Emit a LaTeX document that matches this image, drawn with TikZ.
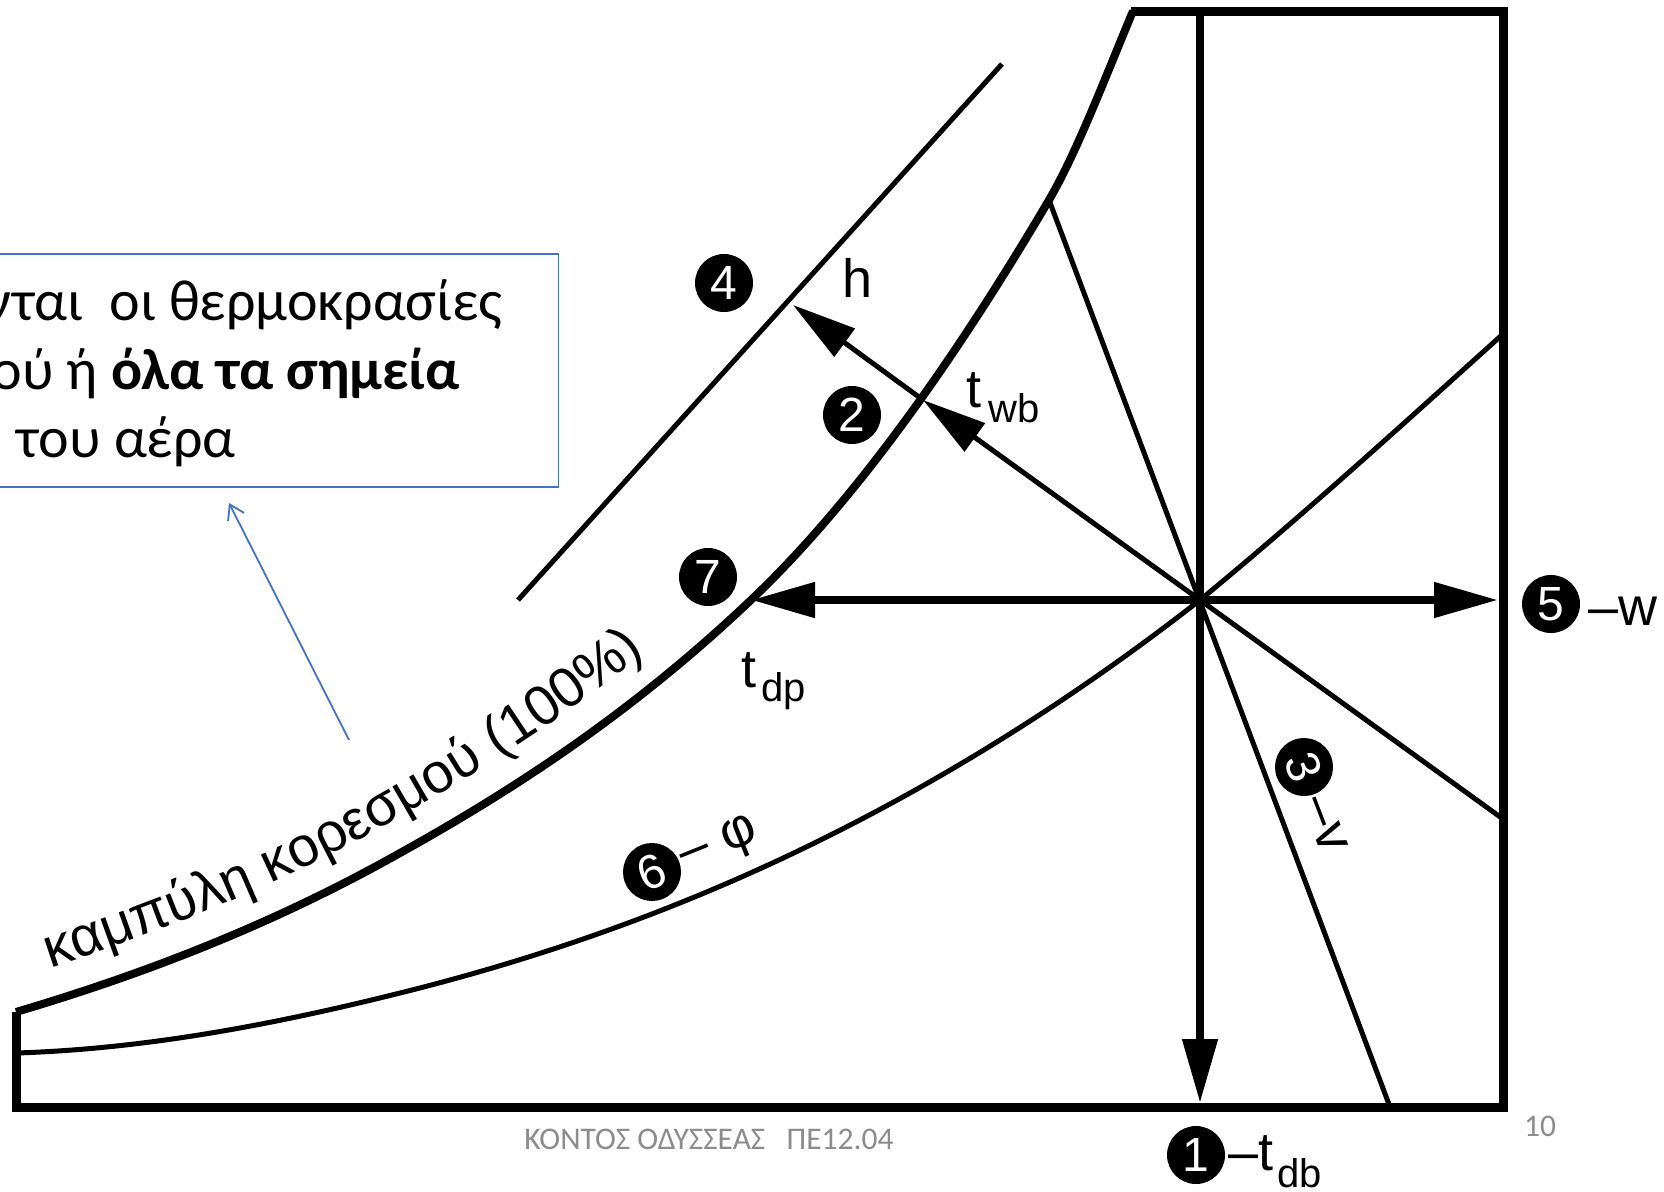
\documentclass[tikz,border=0pt]{standalone}
\usepackage{fontspec}
\newfontfamily\boxfont{Carlito}
\newfontfamily\labfont{Liberation Sans}
\usetikzlibrary{arrows.meta,decorations.text}
\definecolor{blueline}{HTML}{4472C4}
\definecolor{footgray}{HTML}{8C8C8C}
\begin{document}
\begin{tikzpicture}[x=1pt,y=-1pt,
  framestyle/.style={line width=9pt, line join=miter},
  satstyle/.style={line width=8pt},
  thinline/.style={line width=5pt},
  axisline/.style={line width=8pt},
  bigarrow/.style={-{Triangle[length=64pt,width=34pt]}},
  num/.style={circle, fill=black, minimum size=58pt, inner sep=0pt, text=white, font=\labfont\fontsize{48}{48}\selectfont},
  lab/.style={font=\labfont\fontsize{54}{54}\selectfont, inner sep=0pt},
  sublab/.style={font=\labfont\fontsize{40}{40}\selectfont, inner sep=0pt},
  boxtext/.style={font=\boxfont\fontsize{58}{70}\selectfont, inner sep=0pt},
  foottext/.style={font=\boxfont\fontsize{31.5}{31.5}\selectfont, text=footgray, inner sep=0pt},
]
\useasboundingbox (0,0) rectangle (1664,1191);
\fill[white] (0,0) rectangle (1664,1191);
\begin{scope}
\clip (0,0) rectangle (1664,1191);

% key points
\coordinate (C) at (1200,600);
\coordinate (TL) at (16,1012);
\coordinate (BL) at (16,1107);
\coordinate (BR) at (1503,1107);
\coordinate (TR) at (1503,11);
\coordinate (TS) at (1131,11);
\coordinate (S1) at (400,853);
\coordinate (DP) at (751,600);
\coordinate (V1) at (1049,200);
\coordinate (ST) at (1133,11);

% frame
\draw[framestyle] (TL) -- (BL) -- (BR) -- (TR) -- (TS);
% saturation curve
\draw[satstyle] (TL) .. controls (144,974) and (272,925) .. (S1)
  .. controls (517,788) and (634,711) .. (DP)
  .. controls (850,506) and (950,368) .. (V1)
  .. controls (1077,152) and (1105,78) .. (ST);

% relative humidity curve
\coordinate (F0) at (16,1053);
\coordinate (F1) at (400,993);
\coordinate (F2) at (800,850);
\coordinate (F4) at (1503,334);
\draw[thinline] (F0) .. controls (144,1049) and (272,1025) .. (F1)
  .. controls (533,960) and (667,914) .. (F2)
  .. controls (933,786) and (1067,704) .. (C)
  .. controls (1301,517) and (1402,425) .. (F4);

% enthalpy line
\coordinate (H1) at (518,600);
\coordinate (H2) at (1002,64);
\draw[thinline] (H1) -- (H2);

% wet bulb line
\coordinate (HW) at (793,305);
\coordinate (SW) at (923,400);
\coordinate (TWR) at (1503,819);
\draw[thinline] (TWR) -- (C);
\draw[thinline, bigarrow] (C) -- (SW);
\draw[thinline, bigarrow] (SW) -- (HW);

% specific volume line
\coordinate (V2) at (1390,1107);
\draw[thinline] (V1) -- (V2);

% humidity ratio / dew point
\coordinate (WR) at (1498,600);
\draw[axisline, bigarrow] (C) -- (DP);
\draw[axisline, bigarrow] (C) -- (WR);

% dry bulb
\coordinate (DBT) at (1200,11);
\coordinate (DBB) at (1200,1103);
\draw[axisline, bigarrow] (DBT) -- (DBB);

% curve label
\coordinate (K0) at (50,968);
\coordinate (K1) at (388,824);
\coordinate (K2) at (739,571);
\path[decorate, decoration={text along path, text align=left,
  text={|\labfont\fontsize{56}{56}\selectfont|καμπύλη κορεσμού (100{\%})}}]
  (K0) .. controls (163,931) and (275,887) .. (K1)
  .. controls (505,758) and (622,682) .. (K2);

% circled numbers
\node[num] (n4) at (724,283) {4};
\node[num] (n2) at (852,415) {2};
\node[num] (n7) at (708,577) {7};
\node[num] (n5) at (1551,604) {5};
\node[num] (n1) at (1196,1155) {1};
\node[num, rotate=-69] (n3) at (1304,767) {3};
\node[num, rotate=22] (n6) at (652,872) {6};

% labels
\node[lab, anchor=base west] (lh) at (842,297) {h};
\node[lab, anchor=base west] (ltwb) at (966,407) {t};
\node[sublab, anchor=base west] (ltwbs) at (988,422) {wb};
\node[lab, anchor=base west] (ltdp) at (741,687) {t};
\node[sublab, anchor=base west] (ltdps) at (761,701) {dp};
\node[lab, anchor=base west] (lw) at (1588,625) {–w};
\node[lab, anchor=base west] (ltdb) at (1228,1170) {–t};
\node[sublab, anchor=base west] (ltdbs) at (1277,1187) {db};
\node[lab, rotate=-69, anchor=west] (lv) at (1315,797) {–v};
\node[lab, rotate=22, anchor=west] (lphi) at (682,861) {– φ};

% text box
\node[draw=blueline, line width=1.5pt, minimum width=580pt, minimum height=233pt, anchor=north east, inner sep=0pt] (box) at (559,253) {};
\node[boxtext, anchor=base east] (t1) at (503,320) {νται\ \ οι θερμοκρασίες};
\node[boxtext, anchor=base east] (t2) at (460,389) {ού ή \textbf{όλα τα σημεία}};
\node[boxtext, anchor=base east] (t3) at (236,457) {του αέρα};
\coordinate (bstart) at (349,740);
\coordinate (btip) at (229,503);
\draw[blueline, line width=1.8pt, -{Straight Barb[length=14pt,width=18pt]}] (bstart) -- (btip);

% footer
\node[foottext, anchor=base] (foot) at (709,1149) {ΚΟΝΤΟΣ ΟΔΥΣΣΕΑΣ\ \ \ ΠΕ12.04};
\node[foottext, anchor=base] (pg) at (1540,1136) {10};
\end{scope}
\end{tikzpicture}
\end{document}
